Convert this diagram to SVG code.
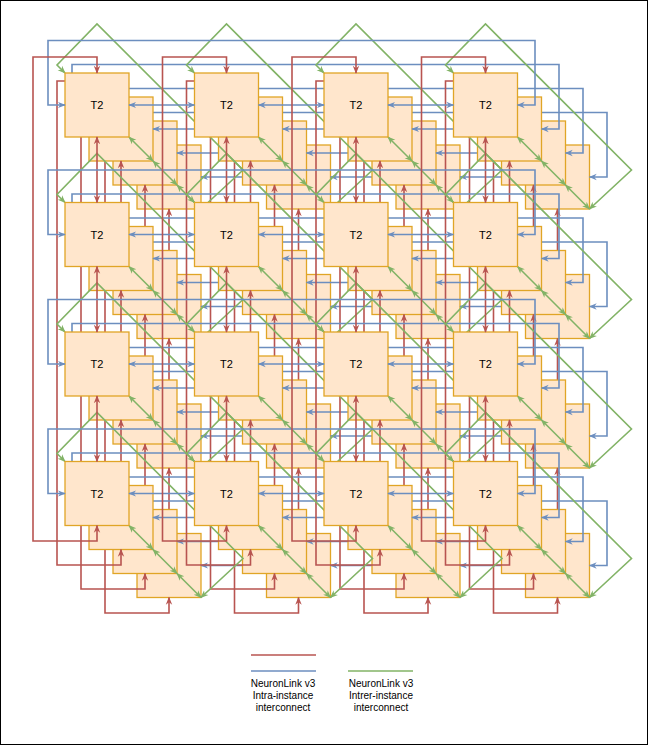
<svg xmlns="http://www.w3.org/2000/svg" xmlns:xlink="http://www.w3.org/1999/xlink" width="648" height="745" viewBox="0 0 648 745">
<style>
.bx{fill:#ffe6cc;stroke:#e0a526;stroke-width:1.3}
.bl{fill:none;stroke:#6c8ebf;stroke-width:1.6;marker-start:url(#ab);marker-end:url(#ab)}
.rd{fill:none;stroke:#b85450;stroke-width:1.6;marker-start:url(#ar);marker-end:url(#ar)}
.gr{fill:none;stroke:#82b366;stroke-width:1.6;marker-start:url(#ag);marker-end:url(#ag)}
.lg{fill:none;stroke-width:1.6}
.t{font-family:"Liberation Sans",Arial,sans-serif;font-size:11px;text-anchor:middle;fill:#000}
.lt{font-family:"Liberation Sans",Arial,sans-serif;font-size:10px;text-anchor:middle;fill:#000}
</style>
<defs>
<marker id="ab" viewBox="0 0 10 10" refX="9" refY="5" markerWidth="8" markerHeight="8" markerUnits="userSpaceOnUse" orient="auto-start-reverse"><path d="M0,1 L10,5 L0,9 L3,5z" fill="#6c8ebf"/></marker>
<marker id="ar" viewBox="0 0 10 10" refX="9" refY="5" markerWidth="8" markerHeight="8" markerUnits="userSpaceOnUse" orient="auto-start-reverse"><path d="M0,1 L10,5 L0,9 L3,5z" fill="#b85450"/></marker>
<marker id="ag" viewBox="0 0 10 10" refX="9" refY="5" markerWidth="8" markerHeight="8" markerUnits="userSpaceOnUse" orient="auto-start-reverse"><path d="M0,1 L10,5 L0,9 L3,5z" fill="#82b366"/></marker>
<rect id="b" class="bx" width="64" height="64"/>
<g id="boxes">
<use href="#b" x="65" y="73"/><use href="#b" x="194.5" y="73"/><use href="#b" x="324" y="73"/><use href="#b" x="453.5" y="73"/>
<use href="#b" x="65" y="202.5"/><use href="#b" x="194.5" y="202.5"/><use href="#b" x="324" y="202.5"/><use href="#b" x="453.5" y="202.5"/>
<use href="#b" x="65" y="332"/><use href="#b" x="194.5" y="332"/><use href="#b" x="324" y="332"/><use href="#b" x="453.5" y="332"/>
<use href="#b" x="65" y="461.5"/><use href="#b" x="194.5" y="461.5"/><use href="#b" x="324" y="461.5"/><use href="#b" x="453.5" y="461.5"/>
</g>
<line id="h" class="bl" x1="129" y1="105" x2="194.5" y2="105"/>
<line id="v" class="rd" x1="97" y1="137" x2="97" y2="202.5"/>
<path id="bw" class="bl" d="M517.5,105 H535 V40.5 H48 V105 H65"/>
<path id="rw" class="rd" d="M97,525.5 V541 H33 V57 H97 V73"/>
<g id="links">
<use href="#h"/><use href="#h" x="129.5"/><use href="#h" x="259"/>
<use href="#h" y="129.5"/><use href="#h" x="129.5" y="129.5"/><use href="#h" x="259" y="129.5"/>
<use href="#h" y="259"/><use href="#h" x="129.5" y="259"/><use href="#h" x="259" y="259"/>
<use href="#h" y="388.5"/><use href="#h" x="129.5" y="388.5"/><use href="#h" x="259" y="388.5"/>
<use href="#v"/><use href="#v" y="129.5"/><use href="#v" y="259"/>
<use href="#v" x="129.5"/><use href="#v" x="129.5" y="129.5"/><use href="#v" x="129.5" y="259"/>
<use href="#v" x="259"/><use href="#v" x="259" y="129.5"/><use href="#v" x="259" y="259"/>
<use href="#v" x="388.5"/><use href="#v" x="388.5" y="129.5"/><use href="#v" x="388.5" y="259"/>
<use href="#bw"/><use href="#bw" y="129.5"/><use href="#bw" y="259"/><use href="#bw" y="388.5"/>
<use href="#rw"/><use href="#rw" x="129.5"/><use href="#rw" x="259"/><use href="#rw" x="388.5"/>
</g>
<g id="gc">
<line class="gr" x1="129" y1="137" x2="153" y2="161"/>
<line class="gr" x1="153" y1="161" x2="177" y2="185"/>
<line class="gr" x1="177" y1="185" x2="201" y2="209"/>
<path class="gr" d="M201,209 L243,170 L97,24 L57,65 L65,73"/>
</g>
</defs>
<rect x="0.5" y="0.5" width="647" height="744" fill="#fff" stroke="#000" stroke-width="1"/>
<g id="layer3"><use href="#boxes" x="72" y="72"/><use href="#links" x="72" y="72"/></g>
<g id="layer2"><use href="#boxes" x="48" y="48"/><use href="#links" x="48" y="48"/></g>
<g id="layer1"><use href="#boxes" x="24" y="24"/><use href="#links" x="24" y="24"/></g>
<g id="inter-instance">
<use href="#gc"/><use href="#gc" x="129.5"/><use href="#gc" x="259"/><use href="#gc" x="388.5"/>
<use href="#gc" y="129.5"/><use href="#gc" x="129.5" y="129.5"/><use href="#gc" x="259" y="129.5"/><use href="#gc" x="388.5" y="129.5"/>
<use href="#gc" y="259"/><use href="#gc" x="129.5" y="259"/><use href="#gc" x="259" y="259"/><use href="#gc" x="388.5" y="259"/>
<use href="#gc" y="388.5"/><use href="#gc" x="129.5" y="388.5"/><use href="#gc" x="259" y="388.5"/><use href="#gc" x="388.5" y="388.5"/>
</g>
<g id="n00"><rect class="bx" x="65" y="73" width="64" height="64"/><text class="t" x="97" y="109">T2</text></g>
<g id="n01"><rect class="bx" x="194.5" y="73" width="64" height="64"/><text class="t" x="226.5" y="109">T2</text></g>
<g id="n02"><rect class="bx" x="324" y="73" width="64" height="64"/><text class="t" x="356" y="109">T2</text></g>
<g id="n03"><rect class="bx" x="453.5" y="73" width="64" height="64"/><text class="t" x="485.5" y="109">T2</text></g>
<g id="n10"><rect class="bx" x="65" y="202.5" width="64" height="64"/><text class="t" x="97" y="238.5">T2</text></g>
<g id="n11"><rect class="bx" x="194.5" y="202.5" width="64" height="64"/><text class="t" x="226.5" y="238.5">T2</text></g>
<g id="n12"><rect class="bx" x="324" y="202.5" width="64" height="64"/><text class="t" x="356" y="238.5">T2</text></g>
<g id="n13"><rect class="bx" x="453.5" y="202.5" width="64" height="64"/><text class="t" x="485.5" y="238.5">T2</text></g>
<g id="n20"><rect class="bx" x="65" y="332" width="64" height="64"/><text class="t" x="97" y="368">T2</text></g>
<g id="n21"><rect class="bx" x="194.5" y="332" width="64" height="64"/><text class="t" x="226.5" y="368">T2</text></g>
<g id="n22"><rect class="bx" x="324" y="332" width="64" height="64"/><text class="t" x="356" y="368">T2</text></g>
<g id="n23"><rect class="bx" x="453.5" y="332" width="64" height="64"/><text class="t" x="485.5" y="368">T2</text></g>
<g id="n30"><rect class="bx" x="65" y="461.5" width="64" height="64"/><text class="t" x="97" y="497.5">T2</text></g>
<g id="n31"><rect class="bx" x="194.5" y="461.5" width="64" height="64"/><text class="t" x="226.5" y="497.5">T2</text></g>
<g id="n32"><rect class="bx" x="324" y="461.5" width="64" height="64"/><text class="t" x="356" y="497.5">T2</text></g>
<g id="n33"><rect class="bx" x="453.5" y="461.5" width="64" height="64"/><text class="t" x="485.5" y="497.5">T2</text></g>
<g id="layer0-links"><use href="#links"/></g>
<g id="legend">
<line class="lg" stroke="#b85450" x1="251" y1="655" x2="316" y2="655"/>
<line class="lg" stroke="#6c8ebf" x1="251" y1="671" x2="316" y2="671"/>
<line class="lg" stroke="#82b366" x1="348" y1="671" x2="413" y2="671"/>
<text class="lt" x="283" y="687">NeuronLink v3</text>
<text class="lt" x="283" y="699">Intra-instance</text>
<text class="lt" x="283" y="711">interconnect</text>
<text class="lt" x="381" y="687">NeuronLink v3</text>
<text class="lt" x="381" y="699">Intrer-instance</text>
<text class="lt" x="381" y="711">interconnect</text>
</g>
</svg>
